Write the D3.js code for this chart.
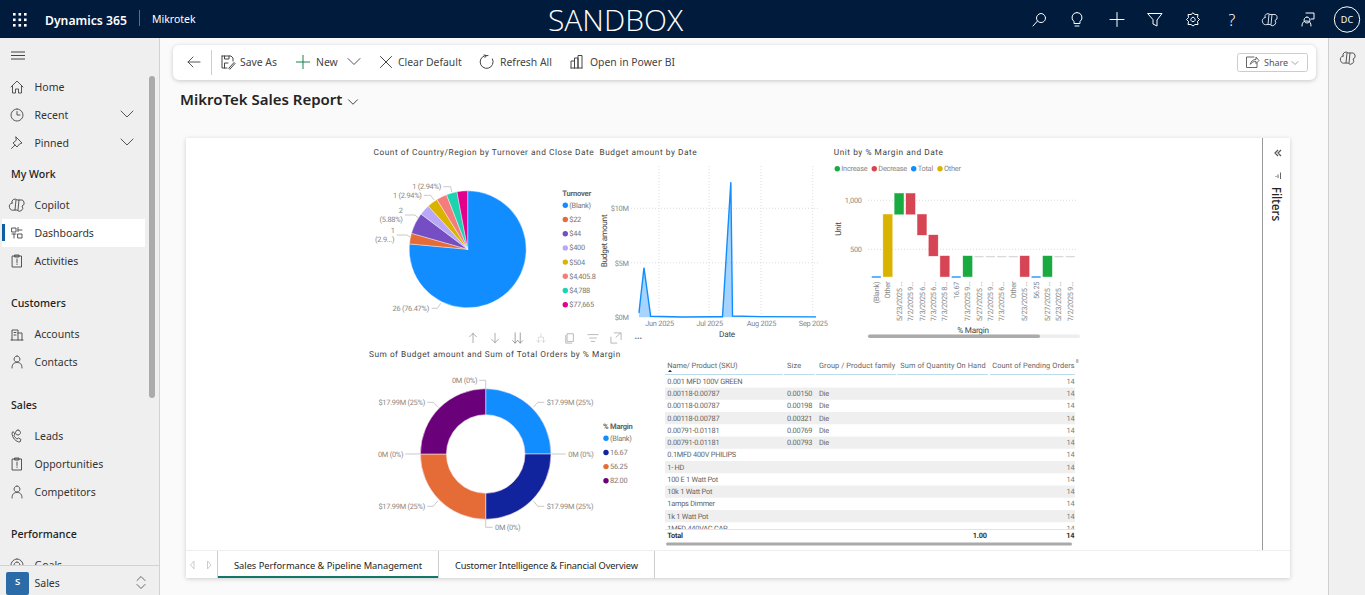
<!DOCTYPE html>
<html>
<head>
<meta charset="utf-8">
<title>MikroTek Sales Report</title>
<script src="https://cdn.jsdelivr.net/npm/d3@7"></script>
<style>
  html, body { margin: 0; padding: 0; background: #fafafa; overflow: hidden; }
  svg { display: block; }
  .ui { font-family: "Noto Sans", "Open Sans", sans-serif; }
  .viz { font-family: Roboto, "Noto Sans", sans-serif; text-rendering: geometricPrecision; letter-spacing: -0.25px; }
  .ic { fill: none; stroke-linecap: round; stroke-linejoin: round; }
  .axis .domain, .axis line { display: none; }
</style>
</head>
<body>
<svg id="page" width="1365" height="595"></svg>
<script>
// Pie: count of Country/Region by Turnover
let turnoverLabels = ["(Blank)", "$22", "$44", "$400", "$504", "$4,405.8", "$4,788", "$77,665"];
let turnoverCounts = [26, 1, 2, 1, 1, 1, 1, 1];
let turnoverColors = ["#118DFF", "#E66C37", "#744EC2", "#B9A8F7", "#D9B300", "#F47C7C", "#1CD2B1", "#E3008C"];

// Line: budget amount by date
let budgetDates = ["2025-05-20", "2025-05-23", "2025-05-27", "2025-06-15", "2025-07-03", "2025-07-09", "2025-07-14", "2025-07-15", "2025-08-01", "2025-09-03"];
let budgetValues = [0.4, 4.55, 0.1, 0.03, 0.05, 0.05, 12.4, 0.12, 0.06, 0.04];
let budgetTicks = [0, 5, 10];
let budgetDateTicks = ["2025-06-01", "2025-07-01", "2025-08-01", "2025-09-01"];

// Waterfall: unit by % margin and date
let unitCategories = ["(Blank)", "Other", "5/23/2025 ...", "7/2/2025 9...", "7/3/2025 6...", "7/3/2025 6...", "7/3/2025 8...", "16.67", "7/3/2025 9...", "5/27/2025 ...", "7/2/2025 9...", "7/3/2025 6...", "Other", "5/23/2025 ...", "56.25", "5/27/2025 ...", "5/23/2025 ...", "7/2/2025 9..."];
let unitStart = [220, 220, 857, 1071, 857, 646, 432, 220, 220, 432, 432, 432, 432, 432, 220, 220, 432, 432];
let unitEnd = [224, 857, 1071, 857, 646, 432, 220, 224, 432, 432, 432, 432, 432, 220, 224, 432, 432, 432];
let unitKinds = ["Total", "Other", "Increase", "Decrease", "Decrease", "Decrease", "Decrease", "Total", "Increase", "None", "None", "None", "None", "Decrease", "Total", "Increase", "None", "None"];
let unitKindNames = ["Increase", "Decrease", "Total", "Other"];
let unitKindColors = ["#1AAB40", "#D64554", "#118DFF", "#D9B300"];
let unitTicks = [500, 1000];

// Donut: sum of budget amount by % margin
let marginLabels = ["(Blank)", "16.67", "56.25", "82.00"];
let marginBudget = [17.99, 17.99, 17.99, 17.99];
let marginColors = ["#118DFF", "#12239E", "#E66C37", "#6B007B"];

// Table
let tableHeaders = ["Name/ Product (SKU)", "Size", "Group / Product family", "Sum of Quantity On Hand", "Count of Pending Orders"];
let tableNames = ["0.001 MFD 100V GREEN", "0.00118-0.00787", "0.00118-0.00787", "0.00118-0.00787", "0.00791-0.01181", "0.00791-0.01181", "0.1MFD 400V PHILIPS", "1- HD", "100 E 1 Watt Pot", "10k 1 Watt Pot", "1amps Dimmer", "1k 1 Watt Pot", "1MFD 440VAC CAP"];
let tableSizes = ["", "0.00150", "0.00198", "0.00321", "0.00769", "0.00793", "", "", "", "", "", "", ""];
let tableGroups = ["", "Die", "Die", "Die", "Die", "Die", "", "", "", "", "", "", ""];
let tablePending = [14, 14, 14, 14, 14, 14, 14, 14, 14, 14, 14, 14, 14];

// Page chrome
let navEntries = [["Home", 87, "home"], ["Recent", 115, "clock"], ["Pinned", 143, "pin"], ["Copilot", 205, "copilot"], ["Dashboards", 233, "dash"], ["Activities", 261, "clip"], ["Accounts", 334, "build"], ["Contacts", 362, "person"], ["Leads", 436, "phone"], ["Opportunities", 464, "clip"], ["Competitors", 492, "person"], ["Goals", 565, "target"]];
let navHeadings = [["My Work", 174], ["Customers", 303], ["Sales", 405], ["Performance", 534]];

let svg = d3.select("#page");

function addText(parent, x, y, str, size, color, opts) {
    opts = opts || {};
    let t = parent.append("text")
        .attr("x", x).attr("y", y)
        .attr("dy", "0.35em")
        .attr("font-size", size)
        .attr("fill", color)
        .attr("text-anchor", opts.anchor || "start")
        .attr("font-weight", opts.weight || 400)
        .text(str);
    if (opts.cls) t.attr("class", opts.cls);
    if (opts.width) t.attr("textLength", opts.width).attr("lengthAdjust", "spacing");
    if (opts.rotate !== undefined) t.attr("transform", `rotate(${opts.rotate} ${x} ${y})`);
    return t;
}

// little 16x16 line icons, drawn around 0,0
let icons = {
    home: "M-6 0 L0 -6 L6 0 M-4.5 -1 V6 H-1.5 V2 H1.5 V6 H4.5 V-1",
    clock: "M0 -6 A6 6 0 1 1 -0.01 -6 M0 -3.5 V0 H3",
    pin: "M-1 -6 L5 0 L2.5 1 L0 4 L-4 0 L-1 -2.5 Z M-2 2 L-5.5 5.5",
    copilot: "M-5 -2 A3 3 0 0 1 0 -5 L3 -5 A3 3 0 0 1 5 1 A3 3 0 0 1 0 5 L-3 5 A3 3 0 0 1 -5 -2 Z M-1 -5 L-2 5 M2 -5 L1 5",
    dash: "M-5 -5 H-1 V-1 H-5 Z M1 -5.5 V-1.5 M1 -3 H5 M-5 1 H-1 M-3 1 V5 M1 1 H5 V5 H1 Z",
    clip: "M-4.5 -5 H4.5 V6 H-4.5 Z M-2 -6 H2 V-4 H-2 Z M0 -2 V1.5 M0 3 V3.5",
    build: "M-5 6 V-4 H1 V6 M1 -1 H5 V6 M-6 6 H6 M-3 -1.5 H-1 M-3 1 H-1",
    person: "M0 -6 A3 3 0 1 1 -0.01 -6 M-5 6 C-5 1 -2 0.5 0 0.5 C2 0.5 5 1 5 6",
    phone: "M-5 -3 C-5 2 -1 6 3 6 L4 3.5 L1.5 2 L0 3 C-1 2.5 -2.5 1 -3 -0.5 L-2 -2 L-3.5 -4 Z M1 -6 A2.5 2.5 0 1 1 0.99 -6",
    target: "M0 -6 A6 6 0 1 1 -0.01 -6 M0 -3 A3 3 0 1 1 -0.01 -3",
    chevDown: "M-6 -3 L0 3 L6 -3",
    chevSmall: "M-3 -1.5 L0 1.5 L3 -1.5",
    search: "M1 -6 A4.5 4.5 0 1 1 0.99 -6 M-2.5 1.5 L-7 6.5",
    bulb: "M0 -7 A5 5 0 0 1 3 2 V4 H-3 V2 A5 5 0 0 1 0 -7 M-2 6.5 H2",
    plus: "M-7 0 H7 M0 -7 V7",
    funnel: "M-7 -6 H7 L2 0.5 V6.5 L-2 4.5 V0.5 Z",
    gear: "M0 -6.5 L2 -5 L5 -5 L4.5 -2 L6.5 0 L4.5 2 L5 5 L2 5 L0 6.5 L-2 5 L-5 5 L-4.5 2 L-6.5 0 L-4.5 -2 L-5 -5 L-2 -5 Z M0 -2.2 A2.2 2.2 0 1 1 -0.01 -2.2",
    flag: "M-1 -2 A3 3 0 1 1 -1.01 -2 M-6 7 C-6 3 -4 2 -1 2 C2 2 3 4 3 7 M-2 -6 H6 V0 H3",
    back: "M6 0 H-6 M-1 -5 L-6 0 L-1 5",
    saveAs: "M-6 -6 H3 L5 -4 V-1 M-6 -6 V6 H-1 M-3.5 -6 V-3 H1 V-6 M-3.5 6 V1 H0 M1 6 L6 0.5 L7 1.5 L2 7 Z",
    close: "M-5.5 -5.5 L5.5 5.5 M5.5 -5.5 L-5.5 5.5",
    refresh: "M5.5 -3 A6.5 6.5 0 1 1 1 -6.5 M-3 -7 L-0.5 -6.5 L-2 -4.5",
    powerbi: "M-6 6 V-1 H-2.5 V6 M-2.5 6 V-4 H1 V6 M1 6 V-6.5 H5 V6 M-6 6 H5",
    share: "M2 -5 H-5.5 V5.5 H5 V1 M-1.5 2 C-1 -1 1 -2.5 4 -2.5 V-5 L7 -1.5 L4 1.5 V-0.5 C1.5 -0.5 0 0 -1.5 2",
    updown: "M-4 -2 L0 -6 L4 -2 M-4 2 L0 6 L4 2",
    arrowUp: "M0 5.5 V-5.5 M-4 -1.5 L0 -5.5 L4 -1.5",
    arrowDown: "M0 -5.5 V5.5 M-4 1.5 L0 5.5 L4 1.5",
    arrowsDown: "M-3 -6 V6 M-6 3 L-3 6 L0 3 M3 -6 V6 M0 3 L3 6 L6 3",
    fork: "M0 -5 V-2 M-3 5 V-1 H3 V5 M-5 3 L-3 5 L-1 3 M1 3 L3 5 L5 3",
    copy: "M-3 -5 H4 V4 H-3 Z M-5 -3 V6 H2",
    lines: "M-6 -4 H6 M-4 0 H4 M-2 4 H2",
    focus: "M-6 -1 V6 H1 M-2 -6 H6 V2 M0 -1 L5 -5.5"
};

function addIcon(parent, name, x, y, color, width, scale) {
    parent.append("path")
        .attr("class", "ic")
        .attr("d", icons[name])
        .attr("stroke", color)
        .attr("stroke-width", width || 1)
        .attr("transform", `translate(${x},${y}) scale(${scale || 1})`);
}

function drawChrome() {
    let ui = svg.append("g").attr("class", "ui");

    ui.append("rect").attr("width", 1365).attr("height", 595).attr("fill", "#fafafa");

    // right rail
    ui.append("rect").attr("x", 1328).attr("y", 38).attr("width", 37).attr("height", 557).attr("fill", "#f0f0f0");
    ui.append("line").attr("x1", 1328.5).attr("x2", 1328.5).attr("y1", 38).attr("y2", 595).attr("stroke", "#cfcfcf");
    addIcon(ui, "copilot", 1348, 58, "#555", 1);

    // top bar
    ui.append("rect").attr("width", 1365).attr("height", 38).attr("fill", "#011b3d");
    d3.range(9).forEach(i => {
        ui.append("rect").attr("x", 13 + (i % 3) * 5.5).attr("y", 13 + Math.floor(i / 3) * 5.5)
            .attr("width", 2.6).attr("height", 2.6).attr("fill", "#fff");
    });
    addText(ui, 45, 20.5, "Dynamics 365", 12.2, "#fff", { weight: 600 });
    ui.append("line").attr("x1", 139.5).attr("x2", 139.5).attr("y1", 10).attr("y2", 26).attr("stroke", "#5c6f8a");
    addText(ui, 152, 19, "Mikrotek", 10.5, "#fff");
    addText(ui, 615.5, 20, "SANDBOX", 30, "#fff", { anchor: "middle", weight: 300 }).attr("style", "font-family:'Open Sans',sans-serif");

    [["search", 1040], ["bulb", 1077], ["plus", 1117], ["funnel", 1155], ["gear", 1193]].forEach(d => addIcon(ui, d[0], d[1], 19.5, "#fff", 1));
    addText(ui, 1232, 20, "?", 16, "#fff", { anchor: "middle", weight: 300 });
    addIcon(ui, "copilot", 1270, 19.5, "#d8dde5", 1);
    addIcon(ui, "flag", 1308, 19, "#fff", 1);
    ui.append("circle").attr("cx", 1347).attr("cy", 19.5).attr("r", 12.7).attr("fill", "none").attr("stroke", "#fff");
    addText(ui, 1347, 20, "DC", 9, "#fff", { anchor: "middle" });

    // left nav
    ui.append("rect").attr("y", 38).attr("width", 159).attr("height", 557).attr("fill", "#efefef");
    ui.append("line").attr("x1", 159.5).attr("x2", 159.5).attr("y1", 38).attr("y2", 595).attr("stroke", "#d2d2d2");
    ui.append("path").attr("d", "M11 52 H25 M11 55.5 H25 M11 59 H25").attr("stroke", "#444").attr("fill", "none");
    ui.append("rect").attr("x", 2).attr("y", 219).attr("width", 143).attr("height", 28).attr("fill", "#fff");
    ui.append("rect").attr("x", 2).attr("y", 224).attr("width", 3).attr("height", 17).attr("fill", "#115ea3");
    ui.append("rect").attr("x", 149).attr("y", 76).attr("width", 6).attr("height", 322).attr("rx", 3).attr("fill", "#ababab");

    navEntries.forEach(d => {
        addIcon(ui, d[2], 17, d[1], "#444", 0.9);
        addText(ui, 34.5, d[1], d[0], 10.5, "#333");
    });
    navHeadings.forEach(d => addText(ui, 11, d[1], d[0], 10.6, "#222", { weight: 500 }));
    addIcon(ui, "chevDown", 127, 114, "#555", 1);
    addIcon(ui, "chevDown", 127, 142, "#555", 1);

    ui.append("rect").attr("y", 566).attr("width", 159).attr("height", 29).attr("fill", "#efefef");
    ui.append("line").attr("x1", 0).attr("x2", 159).attr("y1", 565.5).attr("y2", 565.5).attr("stroke", "#d2d2d2");
    ui.append("rect").attr("x", 6).attr("y", 572).attr("width", 23).attr("height", 23).attr("rx", 2).attr("fill", "#2b6ca8");
    addText(ui, 17.5, 582, "S", 9.5, "#fff", { anchor: "middle", weight: 600 });
    addText(ui, 34.5, 583, "Sales", 10.5, "#333");
    addIcon(ui, "updown", 141, 582.5, "#555", 0.9);

    // command bar
    ui.append("rect").attr("x", 173).attr("y", 45).attr("width", 1143).attr("height", 35).attr("rx", 6)
        .attr("fill", "#fff").attr("style", "filter:drop-shadow(0 1px 2px rgba(0,0,0,.2))");
    addIcon(ui, "back", 194, 62, "#555", 1);
    ui.append("line").attr("x1", 211.5).attr("x2", 211.5).attr("y1", 50).attr("y2", 75).attr("stroke", "#cfcfcf");
    addIcon(ui, "saveAs", 228, 62, "#444", 1);
    addText(ui, 240, 62, "Save As", 10.4, "#444");
    addIcon(ui, "plus", 303, 62, "#107c41", 1, 0.95);
    addText(ui, 316, 62, "New", 10.4, "#444");
    addIcon(ui, "chevDown", 354, 61.5, "#555", 1);
    addIcon(ui, "close", 386, 62, "#444", 1);
    addText(ui, 398, 62, "Clear Default", 10.4, "#444");
    addIcon(ui, "refresh", 487, 62, "#444", 1);
    addText(ui, 500, 62, "Refresh All", 10.4, "#444");
    addIcon(ui, "powerbi", 577, 62, "#444", 1);
    addText(ui, 590, 62, "Open in Power BI", 10.4, "#444");
    ui.append("rect").attr("x", 1237.5).attr("y", 53.5).attr("width", 70).attr("height", 18).attr("rx", 2)
        .attr("fill", "#fff").attr("stroke", "#ccc");
    addIcon(ui, "share", 1252, 62, "#555", 0.9);
    addText(ui, 1264, 62.5, "Share", 9, "#555");
    addIcon(ui, "chevSmall", 1295, 63, "#888", 0.8);

    addText(ui, 180, 100, "MikroTek Sales Report", 15, "#252423", { weight: 600 });
    addIcon(ui, "chevDown", 353, 102, "#333", 1.2, 0.75);

    // report card
    ui.append("rect").attr("x", 186).attr("y", 138).attr("width", 1104).attr("height", 440)
        .attr("fill", "#fff").attr("style", "filter:drop-shadow(0 1px 2px rgba(0,0,0,.18))");
    ui.append("line").attr("x1", 1262.5).attr("x2", 1262.5).attr("y1", 138).attr("y2", 551).attr("stroke", "#999");
    ui.append("path").attr("d", "M1278 150 L1275 153 L1278 156 M1281 150 L1278 153 L1281 156").attr("fill", "none").attr("stroke", "#555").attr("stroke-width", 1.2);
    ui.append("path").attr("d", "M1276 176 V177 M1278 174.5 V178 M1280.5 172.5 V179").attr("fill", "none").attr("stroke", "#666");
    addText(ui, 1276, 204, "Filters", 11.8, "#252423", { anchor: "middle", weight: 500, rotate: 90 });

    // page tabs
    ui.append("line").attr("x1", 186).attr("x2", 1290).attr("y1", 550.5).attr("y2", 550.5).attr("stroke", "#eee");
    ui.append("path").attr("d", "M194 561 L190.5 565 L194 569 Z M207.5 561 L211 565 L207.5 569 Z").attr("fill", "#fff").attr("stroke", "#ccc");
    [217.5, 438.5, 654.5].forEach(x => {
        ui.append("line").attr("x1", x).attr("x2", x).attr("y1", 551).attr("y2", 578).attr("stroke", "#ccc");
    });
    ui.append("rect").attr("x", 218).attr("y", 576).attr("width", 220).attr("height", 2).attr("fill", "#117865");
    addText(ui, 234, 565.5, "Sales Performance & Pipeline Management", 9.3, "#252423", { width: 188 });
    addText(ui, 455, 565.5, "Customer Intelligence & Financial Overview", 9.3, "#252423", { width: 183 });

    // visual header over the donut
    [["arrowUp", 473, "#888"], ["arrowDown", 495, "#888"], ["arrowsDown", 517.7, "#777"], ["fork", 541, "#ccc"], ["copy", 570, "#999"], ["lines", 593, "#999"], ["focus", 616, "#999"]].forEach(d => addIcon(ui, d[0], d[1], 338, d[2], 0.8, 0.85));
    addText(ui, 638.3, 335.5, "...", 9, "#777", { anchor: "middle", weight: 700 });
}

function drawLegend(g, title, names, colors, x, ys, titleY) {
    addText(g, x - 3, titleY, title, 7.6, "#666", { weight: 700 });
    names.forEach((name, i) => {
        g.append("circle").attr("cx", x).attr("cy", ys(i)).attr("r", 2.7).attr("fill", colors[i]);
        addText(g, x + 4, ys(i), name, 7.4, "#777");
    });
}

function drawLeaders(g, leaders) {
    g.selectAll(null).data(leaders).join("path")
        .attr("d", d => d3.line()(d))
        .attr("fill", "none")
        .attr("stroke", "#bbb")
        .attr("stroke-width", 0.8);
}

function buildPie() {
    let g = svg.append("g").attr("class", "viz");
    addText(g, 373.5, 152, "Count of Country/Region by Turnover and Close Date", 8.3, "#444", { width: 220 });

    let arcs = d3.pie().sort(null)(turnoverCounts);
    let arc = d3.arc().innerRadius(0).outerRadius(58.5);
    let pieG = g.append("g").attr("transform", "translate(467.7,249.3)");
    pieG.selectAll("path").data(arcs).join("path")
        .attr("d", arc)
        .attr("fill", (d, i) => turnoverColors[i])
        .attr("stroke", "#fff")
        .attr("stroke-width", 0.4);

    drawLeaders(g, [
        [[443.3, 186.7], [450.7, 186.7], [451.7, 192]],
        [[424, 195.3], [430.7, 195.3], [434, 200]],
        [[405, 215], [415, 215], [418.3, 218]],
        [[396.7, 235], [406.7, 235], [410, 237]],
        [[431.7, 308.3], [437.3, 308.3], [440.7, 303.3]]
    ]);
    let total = d3.sum(turnoverCounts);
    let pct = i => `(${(turnoverCounts[i] / total * 100).toFixed(2)}%)`;
    addText(g, 441, 186.7, `${turnoverCounts[6]} ${pct(6)}`, 7.4, "#888", { anchor: "end" });
    addText(g, 421.7, 195.3, `${turnoverCounts[5]} ${pct(5)}`, 7.4, "#888", { anchor: "end" });
    addText(g, 400.7, 210.7, turnoverCounts[2], 7.4, "#888", { anchor: "middle" });
    addText(g, 402.7, 219.7, pct(2), 7.4, "#888", { anchor: "end" });
    addText(g, 392.7, 230.7, turnoverCounts[1], 7.4, "#888", { anchor: "middle" });
    addText(g, 394.3, 239.7, "(2.9...)", 7.4, "#888", { anchor: "end" });
    addText(g, 429, 308.3, `${turnoverCounts[0]} ${pct(0)}`, 7.4, "#888", { anchor: "end" });

    drawLegend(g, "Turnover", turnoverLabels, turnoverColors, 565.3, i => 205.3 + i * 14.2, 193.7);
}

function buildLine() {
    let g = svg.append("g").attr("class", "viz");
    addText(g, 599.5, 152, "Budget amount by Date", 8.3, "#444", { width: 97 });

    let parseDay = d3.utcParse("%Y-%m-%d");
    let x = d3.scaleUtc().domain([parseDay("2025-06-01"), parseDay("2025-09-01")]).range([659, 812.7]);
    let y = d3.scaleLinear().domain([0, 10]).range([317.3, 208.3]);
    let points = budgetDates.map((d, i) => [parseDay(d), budgetValues[i]]);

    // gridlines
    g.selectAll(".gx").data(budgetDateTicks).join("line")
        .attr("x1", d => x(parseDay(d))).attr("x2", d => x(parseDay(d)))
        .attr("y1", 166).attr("y2", 317)
        .attr("stroke", "#ddd").attr("stroke-dasharray", "1 2");
    g.selectAll(".gy").data(budgetTicks.slice(1)).join("line")
        .attr("x1", 631).attr("x2", 820)
        .attr("y1", d => y(d)).attr("y2", d => y(d))
        .attr("stroke", "#ddd").attr("stroke-dasharray", "1 2");

    let yAxis = d3.axisLeft(y).tickValues(budgetTicks).tickSize(0).tickPadding(0).tickFormat(d => `$${d}M`);
    g.append("g").attr("class", "axis").attr("transform", "translate(628.7,0)").call(yAxis)
        .selectAll("text").attr("font-size", 7.4).attr("fill", "#888").attr("font-family", "Roboto");
    let xAxis = d3.axisBottom(x).tickValues(budgetDateTicks.map(parseDay)).tickSize(0).tickPadding(0).tickFormat(d3.utcFormat("%b %Y"));
    g.append("g").attr("class", "axis").attr("transform", "translate(0,320.5)").call(xAxis)
        .selectAll("text").attr("font-size", 7.4).attr("fill", "#888").attr("font-family", "Roboto");

    g.append("path").datum(points)
        .attr("d", d3.area().x(d => x(d[0])).y0(y(0)).y1(d => y(d[1])))
        .attr("fill", "#118DFF").attr("fill-opacity", 0.38);
    g.append("path").datum(points)
        .attr("d", d3.line().x(d => x(d[0])).y(d => y(d[1])))
        .attr("fill", "none").attr("stroke", "#118DFF").attr("stroke-width", 1.4);

    addText(g, 603.7, 241, "Budget amount", 8.2, "#444", { anchor: "middle", rotate: -90 });
    addText(g, 727, 334.3, "Date", 8.2, "#444", { anchor: "middle" });
}

function buildWaterfall() {
    let g = svg.append("g").attr("class", "viz");
    addText(g, 833.7, 152, "Unit by % Margin and Date", 8.3, "#444", { width: 109 });

    let legendX = [837.3, 874.3, 913.7, 940];
    unitKindNames.forEach((name, i) => {
        g.append("circle").attr("cx", legendX[i]).attr("cy", 168.7).attr("r", 2.7).attr("fill", unitKindColors[i]);
        addText(g, legendX[i] + 4, 168.7, name, 7.4, "#888");
    });

    let x = d3.scaleBand().domain(d3.range(unitCategories.length)).range([870.6, 1076]).paddingInner(0.2).paddingOuter(0.1);
    let y = d3.scaleLinear().domain([500, 1000]).range([249.3, 200.3]);

    g.selectAll(".gy").data(unitTicks).join("line")
        .attr("x1", 868).attr("x2", 1078)
        .attr("y1", d => y(d)).attr("y2", d => y(d))
        .attr("stroke", "#ddd").attr("stroke-dasharray", "1 2");
    let yAxis = d3.axisLeft(y).tickValues(unitTicks).tickSize(0).tickPadding(0).tickFormat(d3.format(","));
    g.append("g").attr("class", "axis").attr("transform", "translate(861.7,0)").call(yAxis)
        .selectAll("text").attr("font-size", 7.4).attr("fill", "#888").attr("font-family", "Roboto");

    let kindColor = k => k === "None" ? "#d9d9d9" : unitKindColors[unitKindNames.indexOf(k)];
    g.selectAll(".bar").data(unitCategories).join("rect")
        .attr("x", (d, i) => x(i))
        .attr("width", x.bandwidth())
        .attr("y", (d, i) => y(Math.max(unitStart[i], unitEnd[i])))
        .attr("height", (d, i) => Math.max(Math.abs(y(unitStart[i]) - y(unitEnd[i])), 1.3))
        .attr("fill", (d, i) => kindColor(unitKinds[i]))
        .attr("stroke", (d, i) => kindColor(unitKinds[i]))
        .attr("stroke-opacity", 0.4)
        .attr("stroke-width", (d, i) => unitKinds[i] === "None" || unitKinds[i] === "Total" ? 0 : 0.8);

    unitCategories.forEach((c, i) => {
        addText(g, x(i) + x.bandwidth() / 2, 281.7, c, 7.4, "#888", { anchor: "end", rotate: -90 });
    });

    addText(g, 838, 229, "Unit", 8.2, "#444", { anchor: "middle", rotate: -90 });
    addText(g, 973, 330, "% Margin", 8.2, "#444", { anchor: "middle" });
    g.append("rect").attr("x", 868).attr("y", 334.5).attr("width", 212).attr("height", 3.5).attr("rx", 1.7).attr("fill", "#eee");
    g.append("rect").attr("x", 868).attr("y", 334.5).attr("width", 172).attr("height", 3.5).attr("rx", 1.7).attr("fill", "#ababab");
}

function buildDonut() {
    let g = svg.append("g").attr("class", "viz");
    addText(g, 369, 354, "Sum of Budget amount and Sum of Total Orders by % Margin", 8.3, "#444", { width: 251 });

    let arcs = d3.pie().sort(null)(marginBudget);
    let arc = d3.arc().innerRadius(39.3).outerRadius(65.3);
    let donutG = g.append("g").attr("transform", "translate(485.7,454)");
    donutG.selectAll("path").data(arcs).join("path")
        .attr("d", arc)
        .attr("fill", (d, i) => marginColors[i])
        .attr("stroke", "#f3dfe8")
        .attr("stroke-width", 0.6);

    drawLeaders(g, [
        [[533.3, 407.3], [537.7, 402.3], [544.3, 402.3]],
        [[551.7, 454], [565.7, 454]],
        [[533.3, 500.7], [537.7, 506.3], [544.3, 506.3]],
        [[485.7, 519.3], [485.7, 527.3], [492.7, 527.3]],
        [[438, 500.7], [433.3, 506.3], [427.3, 506.3]],
        [[405.3, 454], [420, 454]],
        [[438, 407.3], [433.3, 402.3], [427.3, 402.3]],
        [[485.7, 388.3], [485.7, 380.3], [479.3, 380.3]]
    ]);
    let budgetLabel = i => `$${marginBudget[i]}M (25%)`;
    addText(g, 546.7, 402.3, budgetLabel(0), 7.4, "#888");
    addText(g, 568.3, 454.3, "0M (0%)", 7.4, "#888");
    addText(g, 546.7, 506.3, budgetLabel(1), 7.4, "#888");
    addText(g, 495, 527.3, "0M (0%)", 7.4, "#888");
    addText(g, 425, 506.3, budgetLabel(2), 7.4, "#888", { anchor: "end" });
    addText(g, 403.3, 454.3, "0M (0%)", 7.4, "#888", { anchor: "end" });
    addText(g, 425, 402.3, budgetLabel(3), 7.4, "#888", { anchor: "end" });
    addText(g, 477.3, 380.3, "0M (0%)", 7.4, "#888", { anchor: "end" });

    drawLegend(g, "% Margin", marginLabels, marginColors, 606, i => 438.3 + i * 14.15, 426.7);
}

function buildTable() {
    let g = svg.append("g").attr("class", "viz");
    let headerX = [667.3, 787, 819, 900.3, 992.3];
    let headerW = [70, 14, 76, 85, 82];
    tableHeaders.forEach((h, i) => addText(g, headerX[i], 365.7, h, 7.4, "#666", { width: headerW[i] }));
    g.append("path").attr("d", "M668 372 L670 369.8 L672 372 Z").attr("fill", "#333");
    g.append("rect").attr("x", 1076).attr("y", 359).attr("width", 2.5).attr("height", 4).attr("rx", 1).attr("fill", "#bbb");

    // header underline is split per column
    [[665, 783], [784, 815], [816, 896], [897, 988], [990, 1075]].forEach(d => {
        g.append("line").attr("x1", d[0]).attr("x2", d[1]).attr("y1", 374.5).attr("y2", 374.5).attr("stroke", "#bcdcec");
    });

    let clip = svg.append("clipPath").attr("id", "rowsClip");
    clip.append("rect").attr("x", 660).attr("y", 375).attr("width", 420).attr("height", 154);
    let rows = g.append("g").attr("clip-path", "url(#rowsClip)");
    let rowY = i => 381.3 + i * 12.25;

    tableNames.forEach((name, i) => {
        if (i % 2 === 1) {
            rows.append("rect").attr("x", 665).attr("y", rowY(i) - 6).attr("width", 410).attr("height", 12.2).attr("fill", "#efefef");
        }
        addText(rows, 667.3, rowY(i), name, 7.4, "#666");
        addText(rows, 787, rowY(i), tableSizes[i], 7.4, "#666");
        addText(rows, 819, rowY(i), tableGroups[i], 7.4, "#666");
        addText(rows, 1074.3, rowY(i), tablePending[i], 7.4, "#777", { anchor: "end" });
    });

    g.append("line").attr("x1", 665).attr("x2", 1075).attr("y1", 529.5).attr("y2", 529.5).attr("stroke", "#d5e8f2");
    addText(g, 667.3, 535.7, "Total", 7.4, "#333", { weight: 700 });
    addText(g, 986.7, 535.7, "1.00", 7.4, "#333", { anchor: "end", weight: 700 });
    addText(g, 1074.3, 535.7, d3.max(tablePending), 7.4, "#333", { anchor: "end", weight: 700 });
    g.append("rect").attr("x", 666).attr("y", 542.5).attr("width", 406).attr("height", 3).attr("rx", 1.5).attr("fill", "#aaa");
}

drawChrome();
buildPie();
buildLine();
buildWaterfall();
buildDonut();
buildTable();
</script>
</body>
</html>
